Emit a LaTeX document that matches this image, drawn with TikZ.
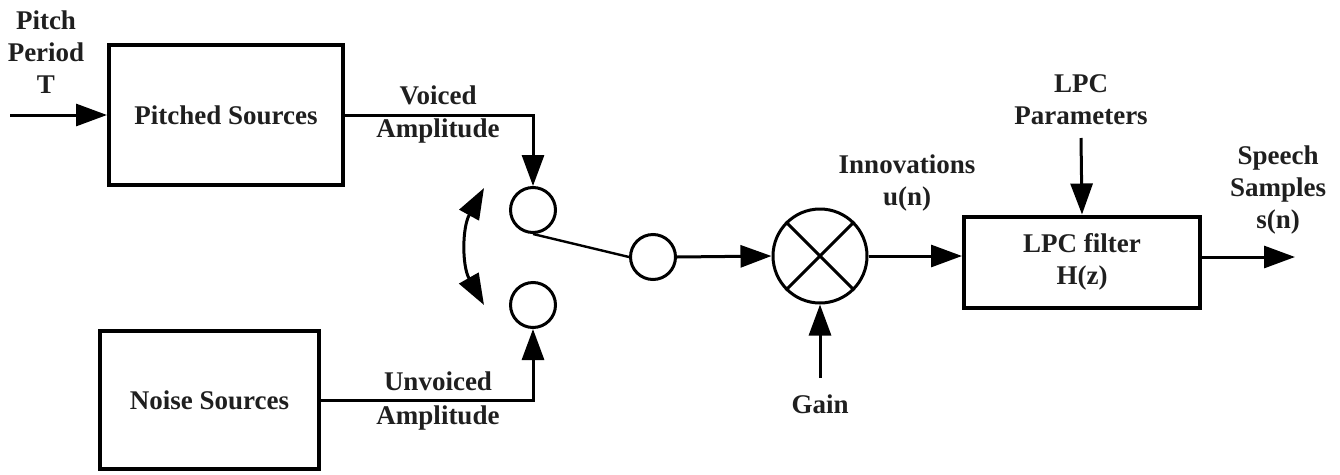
\documentclass[tikz,border=0pt]{standalone}
\usepackage{fontspec}
\setmainfont{Liberation Serif}
\usetikzlibrary{arrows.meta}
\begin{document}
\begin{tikzpicture}[x=1pt,y=-1pt,
  lbl/.style={font=\fontsize{27}{32}\selectfont\bfseries, align=center, text=black!88, inner sep=0pt},
  blk/.style={draw, line width=4pt, inner sep=0pt, font=\fontsize{27}{32}\selectfont\bfseries, align=center, text=black!88},
  node circ/.style={draw, circle, line width=3pt, minimum size=45pt, inner sep=0pt},
  wire/.style={line width=3pt},
  tip/.style={Triangle[length=31pt,width=22pt]},
  arr/.style={wire, -{Triangle[length=31pt,width=22pt]}},
  darr/.style={wire, {Triangle[length=31pt,width=22pt]}-{Triangle[length=31pt,width=22pt]}}]
\useasboundingbox (0,0) rectangle (1340,474);

% blocks
\node[blk, minimum width=234pt, minimum height=140pt] (pitched) at (226,115) {Pitched Sources};
\node[blk, minimum width=219pt, minimum height=138pt] (noise) at (209.5,400) {Noise Sources};
\node[blk, minimum width=236pt, minimum height=91pt] (lpc) at (1082,262) {LPC filter\\H(z)};

% switch contacts
\node[node circ] (top) at (533,210) {};
\node[node circ] (bot) at (533,305) {};
\node[node circ] (mid) at (653,257) {};

% multiplier
\node[draw, circle, line width=3pt, minimum size=94pt, inner sep=0pt] (mul) at (820,256) {};
\draw[wire] (mul.45) -- (mul.225);
\draw[wire] (mul.135) -- (mul.315);

% labels
\node[lbl] (pitchlbl) at (46,52) {Pitch\\Period\\T};
\node[lbl] (voiced) at (438,115) {Voiced\\[1pt]Amplitude};
\node[lbl] (unvoiced) at (438,401) {Unvoiced\\[1pt]Amplitude};
\node[lbl] (innov) at (907,183) {Innovations\\u(n)};
\node[lbl] (gain) at (820,404) {Gain};
\node[lbl] (lpcpar) at (1081,100) {LPC\\Parameters};
\node[lbl] (speech) at (1278,190) {Speech\\Samples\\s(n)};

% free ends of connectors
\coordinate (in) at (10,115);
\coordinate (gainsrc) at (820,378);
\coordinate (parsrc) at (1081,138);
\coordinate (out) at (1295,257);
\coordinate (swa) at (484,188);
\coordinate (swb) at (484,305);

% connectors
\draw[arr] (in) -- (pitched.west);
\draw[arr] (pitched.east) -| (top.north);
\draw[arr] (noise.east) -| (bot.south);
\draw[wire, line width=2.4pt] (top.south) -- (mid.west);
\draw[arr] (mid.east) -- (mul.west);
\draw[arr] (gainsrc) -- (mul.south);
\draw[arr] (mul.east) -- (mul.east -| lpc.west);
\draw[arr] (parsrc) -- (lpc.north);
\draw[arr] (lpc.east |- out) -- (out);
\draw[darr] (swa) .. controls (462,228) and (462,266) .. (swb);
\end{tikzpicture}
\end{document}
